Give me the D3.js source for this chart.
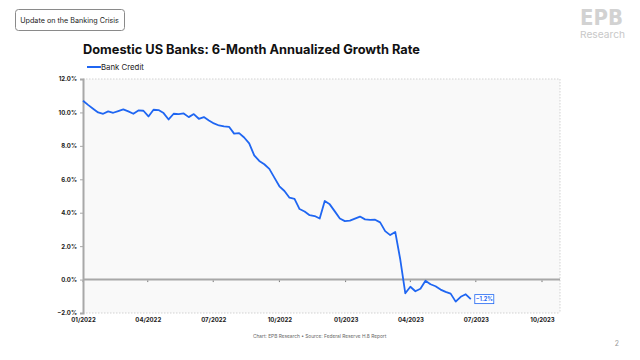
<!DOCTYPE html>
<html>
<head>
<meta charset="utf-8">
<script src="https://cdn.jsdelivr.net/npm/d3@7"></script>
<style>
  html, body { margin: 0; padding: 0; background: #fff; }
  svg { display: block; font-family: "Inter", "Open Sans", sans-serif; }
</style>
</head>
<body>
<svg id="chart" width="640" height="360"></svg>
<script>
const seriesName = "Bank Credit";
const firstWeek = "2022-01-01";
const bankCredit = [
  10.7, 10.45, 10.22, 10.0, 9.92, 10.06, 9.98, 10.08, 10.18, 10.06,
  9.92, 10.12, 10.1, 9.76, 10.16, 10.14, 9.96, 9.58, 9.92, 9.9,
  9.94, 9.72, 9.9, 9.62, 9.72, 9.52, 9.34, 9.22, 9.16, 9.14,
  8.73, 8.76, 8.5, 8.15, 7.43, 7.1, 6.9, 6.62, 6.1, 5.58,
  5.3, 4.9, 4.83, 4.22, 4.07, 3.85, 3.8, 3.65, 4.7, 4.5,
  4.08, 3.65, 3.5, 3.53, 3.65, 3.77, 3.6, 3.57, 3.58, 3.42,
  2.9, 2.66, 2.85, 1.2, -0.82, -0.43, -0.7, -0.55, -0.07, -0.28,
  -0.4, -0.6, -0.74, -0.84, -1.32, -1.03, -0.88, -1.17
];
const yTicks = [-2, 0, 2, 4, 6, 8, 10, 12];
const xDomain = ["2022-01-01", "2023-10-26"];
const titleText = "Domestic US Banks: 6-Month Annualized Growth Rate";
const badgeText = "Update on the Banking Crisis";
const sourceText = "Chart: EPB Research \u2022  Source: Federal Reserve H.8 Report";
const pageNumber = "2";

// ---- Build ----
const parse = d3.timeParse("%Y-%m-%d");
const start = parse(firstWeek);
const data = bankCredit.map((v, i) => ({ date: d3.timeDay.offset(start, 7 * i), value: v }));

const svg = d3.select("#chart");
const m = { left: 83, right: 560, top: 79, bottom: 313 };

const x = d3.scaleTime().domain(xDomain.map(parse)).range([m.left, m.right]);
const y = d3.scaleLinear().domain([-2, 12]).range([m.bottom, m.top]);

const blue = "#1f66f2";

// header badge
svg.append("rect").attr("x", 15.5).attr("y", 9.5).attr("width", 109).attr("height", 21)
  .attr("rx", 3).attr("fill", "#fff").attr("stroke", "#8a8a8a").attr("stroke-width", 1);
svg.append("text").attr("x", 69.5).attr("y", 22.8).attr("text-anchor", "middle")
  .attr("font-size", 7.2).attr("fill", "#222").text(badgeText);

// logo
svg.append("text").attr("x", 580).attr("y", 25)
  .attr("font-family", "DejaVu Sans Condensed, DejaVu Sans").attr("font-weight", "bold")
  .attr("font-size", 21).attr("textLength", 43).attr("lengthAdjust", "spacingAndGlyphs")
  .attr("fill", "#d2d2d2").text("EPB");
svg.append("text").attr("x", 580).attr("y", 38).attr("textLength", 45).attr("lengthAdjust", "spacingAndGlyphs")
  .attr("font-size", 9.5).attr("fill", "#c8c8c8").text("Research");

// title
svg.append("text").attr("x", 83).attr("y", 54).attr("font-size", 12.8).attr("font-weight", 700)
  .attr("fill", "#111").text(titleText);

// legend
svg.append("line").attr("x1", 87).attr("x2", 101).attr("y1", 67).attr("y2", 67)
  .attr("stroke", blue).attr("stroke-width", 2);
svg.append("text").attr("x", 101).attr("y", 70).attr("font-size", 7.8).attr("fill", "#222").text(seriesName);

// plot background
svg.append("rect").attr("x", m.left).attr("y", m.top).attr("width", m.right - m.left)
  .attr("height", m.bottom - m.top).attr("fill", "#f9f9f9");

// dotted frame (top, right, bottom)
const frame = svg.append("g").attr("stroke", "#c8c8c8").attr("stroke-width", 0.8)
  .attr("stroke-dasharray", "1.5,1.5").attr("fill", "none");
frame.append("line").attr("x1", m.left).attr("x2", m.right).attr("y1", y(12)).attr("y2", y(12));
frame.append("line").attr("x1", m.left).attr("x2", m.right).attr("y1", y(-2)).attr("y2", y(-2));
frame.append("line").attr("x1", m.right).attr("x2", m.right).attr("y1", y(12)).attr("y2", y(-2));

// zero line
svg.append("line").attr("x1", m.left).attr("x2", m.right).attr("y1", y(0)).attr("y2", y(0))
  .attr("stroke", "#a8a8a8").attr("stroke-width", 2);
// zero-line tick marks
const xTicks = x.ticks(d3.timeMonth.every(3));
svg.append("g").selectAll("line").data(xTicks).join("line")
  .attr("x1", d => x(d)).attr("x2", d => x(d))
  .attr("y1", y(0) + 1).attr("y2", y(0) + 2.5)
  .attr("stroke", "#555").attr("stroke-width", 0.8);

// x axis labels
const xAxis = d3.axisBottom(x).tickValues(xTicks).tickFormat(d3.timeFormat("%m/%Y")).tickSize(0).tickPadding(5);
const gx = svg.append("g").attr("transform", `translate(0,${m.bottom})`).call(xAxis);
gx.select(".domain").remove();
gx.selectAll("text").attr("font-size", 6).attr("font-weight", 700).attr("fill", "#222")
  .attr("font-family", "Inter, sans-serif");

// y axis
const yAxis = d3.axisLeft(y).tickValues(yTicks).tickFormat(d => d3.format(".1f")(d) + "%").tickSize(3).tickPadding(3);
const gy = svg.append("g").attr("transform", `translate(${m.left},0)`).call(yAxis);
gy.select(".domain").attr("stroke", "#a8a8a8").attr("stroke-width", 2);
gy.selectAll(".tick line").attr("stroke", "#a8a8a8");
gy.selectAll("text").attr("font-size", 6).attr("font-weight", 700).attr("fill", "#222")
  .attr("font-family", "Inter, sans-serif");

// series line
const line = d3.line().x(d => x(d.date)).y(d => y(d.value));
svg.append("path").datum(data).attr("d", line).attr("fill", "none")
  .attr("stroke", blue).attr("stroke-width", 1.8).attr("stroke-linejoin", "round");

// end label
const last = data[data.length - 1];
const lx = x(last.date) + 4, ly = y(last.value);
svg.append("rect").attr("x", lx).attr("y", ly - 4.5).attr("width", 19).attr("height", 9)
  .attr("fill", "#fff").attr("stroke", blue).attr("stroke-width", 0.8);
svg.append("text").attr("x", lx + 9.5).attr("y", ly + 2).attr("text-anchor", "middle")
  .attr("font-size", 5.5).attr("font-weight", 700).attr("fill", blue)
  .text("\u2212" + d3.format(".1f")(Math.abs(last.value)) + "%");

// footer
svg.append("text").attr("x", 253).attr("y", 338).attr("font-size", 4.8).attr("fill", "#666").text(sourceText);
svg.append("text").attr("x", 617).attr("y", 346).attr("text-anchor", "middle")
  .attr("font-size", 7).attr("fill", "#999").text(pageNumber);
</script>
</body>
</html>
